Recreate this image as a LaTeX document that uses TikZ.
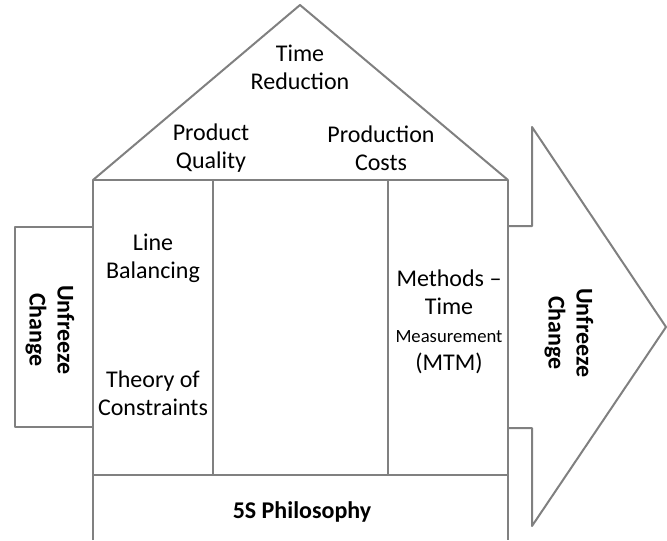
\documentclass[tikz,border=0pt]{standalone}
\usepackage{fontspec}
\setmainfont{Carlito}
\usepackage{tikz}
\usetikzlibrary{calc}
\tikzset{
	wall/.style={line width=1.5pt, color=black!50, line join=round},
	label/.style={align=center, font=\fontsize{18}{21}\selectfont, inner sep=0pt},
	boldlabel/.style={label, font=\fontsize{18}{21}\selectfont\bfseries},
}

\begin{document}
\begin{tikzpicture}[x=0.75pt, y=-0.75pt]
		%%%%% START %%%%%
		\useasboundingbox (0, 0) rectangle (667, 540);
		
		% roof and walls
		\draw[wall] (93, 180) -- (300, 5) -- (508, 180);
		\draw[wall] (93, 540) -- (93, 180) -- (508, 180) -- (508, 540);
		\draw[wall] (213, 180) -- (213, 475);
		\draw[wall] (388, 180) -- (388, 475);
		\draw[wall] (93, 475) -- (508, 475);
		
		% left box and right arrow
		\draw[wall] (93, 227) -- (15, 227) -- (15, 427) -- (93, 427);
		\draw[wall] (508, 226) -- (532, 226) -- (532, 127) -- (666, 327) -- (532, 526) -- (532, 428) -- (508, 428);
		
		\node[label] (timered) at (300, 67) {Time\\Reduction};
		\node[label] (quality) at (211, 148) {Product\\Quality};
		\node[label] (costs) at (381, 148) {Production\\Costs};
		\node[label] (linebal) at (153, 258) {Line\\Balancing};
		\node[label] (toc) at (153, 393) {Theory of\\Constraints};
		\node[label] (mtm) at (449, 322) {Methods --\\Time\\{\fontsize{14}{17}\selectfont Measurement}\\(MTM)};
		\node[boldlabel] (fives) at (302, 512) {5S Philosophy};
		
		\node[boldlabel, rotate=-90] (unfreezeL) at (50, 330) {Unfreeze\\Change};
		\node[boldlabel, rotate=-90] (unfreezeR) at (569, 333) {Unfreeze\\Change};
		
		%%%%% END %%%%%
	\end{tikzpicture}
\end{document}
